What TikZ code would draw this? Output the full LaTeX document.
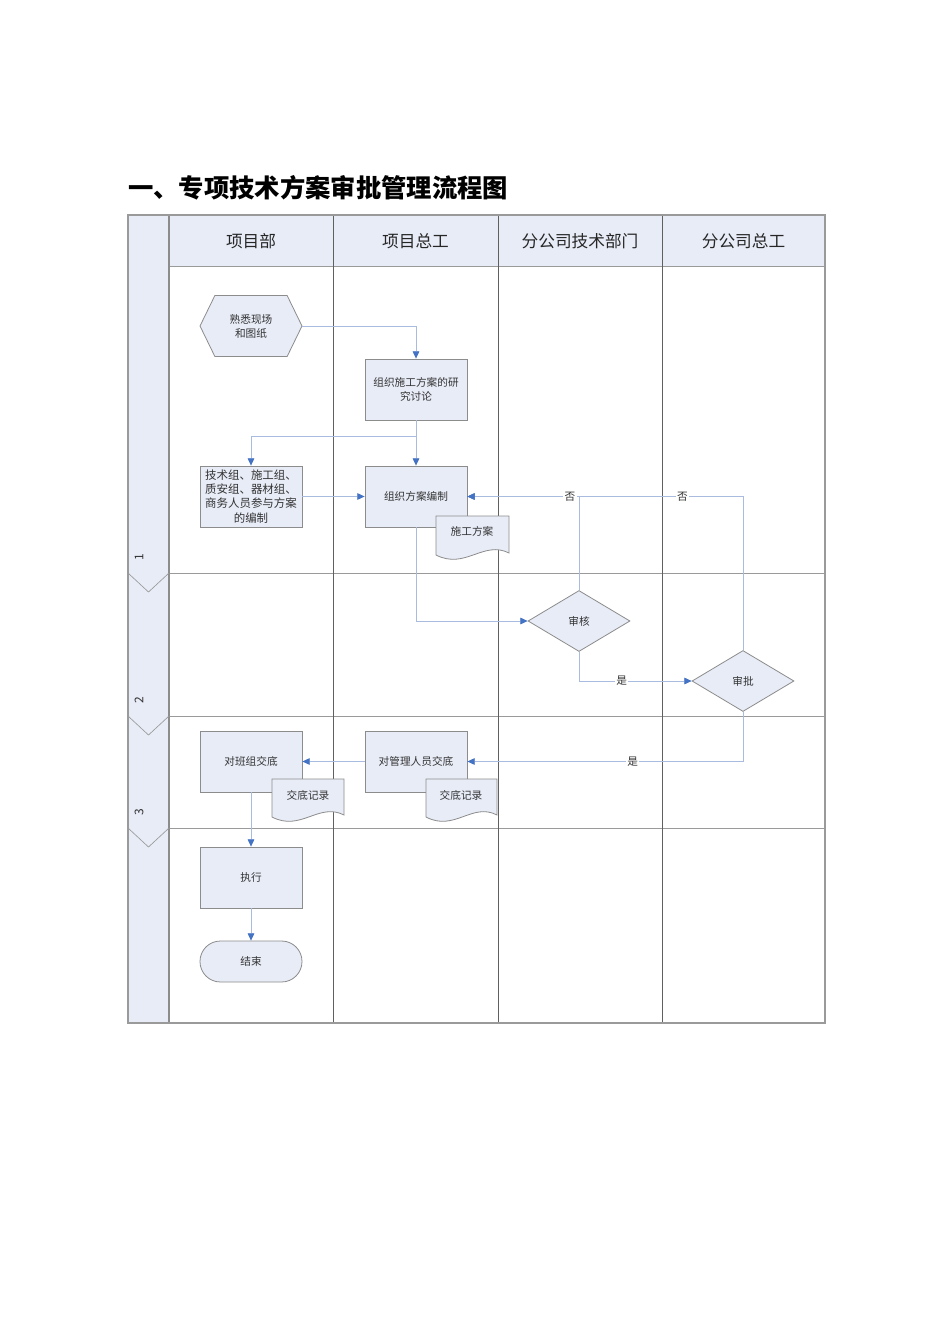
\documentclass[tikz,border=0pt]{standalone}
\usepackage{fontspec}
\newfontfamily\cjk{Noto Sans CJK SC}
\usetikzlibrary{shapes.geometric,shapes.symbols,arrows.meta}
\definecolor{laneblue}{HTML}{E8ECF7}
\definecolor{nodegray}{HTML}{8C8C8C}
\definecolor{gridgray}{HTML}{9A9A9A}
\definecolor{coldark}{HTML}{606060}
\definecolor{connblue}{HTML}{A9BCE0}
\definecolor{tipblue}{HTML}{4472C4}
\definecolor{txt}{HTML}{333333}
\newcommand\docshp[4]{%
  \path[docshape] (#1,#2) -- (#3,#2) -- (#3,#4-2)
    .. controls ({#3-0.35*(#3-#1)},#4-15) and ({#1+0.4*(#3-#1)},#4+15) .. (#1,#4) -- cycle;}
\tikzset{
  box/.style={draw=nodegray, fill=laneblue, line width=0.6pt, minimum width=76.5pt,
    minimum height=45.75pt, inner sep=1pt, align=center,
    font=\cjk\fontsize{8}{10.5}\selectfont, text=txt},
  hexbox/.style={box, signal, signal to=west and east, signal pointer angle=128},
  decision/.style={box, diamond, aspect=1.67, inner sep=0pt},
  terminal/.style={box, minimum height=30.75pt, rounded corners=15.3pt},
  doctext/.style={font=\cjk\fontsize{8}{10.5}\selectfont, text=txt, inner sep=0pt},
  docshape/.style={draw=nodegray, fill=laneblue, line width=0.6pt},
  conn/.style={draw=connblue, line width=0.6pt, -{Triangle[length=5.5pt,width=5pt,color=tipblue]}},
  lbl/.style={fill=white, inner sep=1pt, font=\cjk\fontsize{8}{10}\selectfont, text=txt},
  hdr/.style={font=\cjk\fontsize{12.5}{14}\selectfont, text=black!85},
  phasenum/.style={font=\cjk\fontsize{9}{10}\selectfont, rotate=90, text=txt},
  gridline/.style={draw=gridgray, line width=0.5pt},
  colline/.style={draw=coldark, line width=0.5pt},
}
\begin{document}
\begin{tikzpicture}[x=0.75pt,y=-0.75pt]
\useasboundingbox (0,0) rectangle (950,1344);
\fill[white] (0,0) rectangle (950,1344);
% title
\node[anchor=west, inner sep=0pt] (title) at (128,188)
  {\cjk\bfseries\fontsize{19}{22}\selectfont 一、专项技术方案审批管理流程图};
% header and band
\fill[laneblue] (169,215) rectangle (825,266);
\fill[laneblue] (128,215) rectangle (169,1023);
\draw[gridline] (169,266) -- (825,266);
\foreach \y in {573,716,828} \draw[gridline] (169,\y) -- (825,\y);
\foreach \x in {333,498,662} \draw[colline] (\x,215) -- (\x,1023);
\draw[draw=nodegray, line width=1.1pt] (169,215) -- (169,1023);
\draw[gridline, line width=0.8pt] (128,215) rectangle (825,1023);
\foreach \y in {573,716,828} \draw[gridline] (128,\y) -- (148.5,\y+19) -- (169,\y);
\node[phasenum] (p1) at (139,557) {1};
\node[phasenum] (p2) at (139,700) {2};
\node[phasenum] (p3) at (139,812) {3};
\node[hdr] (h1) at (251,241) {项目部};
\node[hdr] (h2) at (415.5,241) {项目总工};
\node[hdr] (h3) at (580,241) {分公司技术部门};
\node[hdr] (h4) at (743.5,241) {分公司总工};
% nodes
\node[hexbox] (hex) at (251,326) {熟悉现场\\和图纸};
\node[box] (b1) at (416,389.5) {组织施工方案的研\\究讨论};
\node[box, font=\cjk\fontsize{8.6}{10.6}\selectfont] (b3) at (251,496.5) {技术组、施工组、\\质安组、器材组、\\商务人员参与方案\\的编制};
\node[box] (b4) at (416,496.5) {组织方案编制};
\docshp{436}{516}{509}{555}
\node[doctext] (doc1) at (472,531) {施工方案};
\node[decision] (d1) at (579,621) {审核};
\node[decision] (d2) at (743,681) {审批};
\node[box] (b5) at (251,761.5) {对班组交底};
\node[box] (b6) at (416,761.5) {对管理人员交底};
\docshp{272}{779}{344}{817}
\node[doctext] (doc2) at (308,795) {交底记录};
\docshp{426}{779}{497}{817}
\node[doctext] (doc3) at (461,795) {交底记录};
\node[box] (b7) at (251,877.5) {执行};
\node[terminal] (end) at (251,961.5) {结束};
% connectors
\coordinate (br) at (416,436);
\draw[conn] (hex.east) -| (b1.north);
\draw[conn] (b1.south) -- (b4.north);
\draw[conn] (br) -| (b3.north);
\draw[conn] (b3.east) -- (b4.west);
\draw[conn] (b4.south) |- (d1.west);
\draw[conn] (d2.north) |- node[lbl, pos=0.61] {否} (b4.east);
\draw[conn] (d1.north) |- node[lbl, pos=0.54] {否} (b4.east);
\draw[conn] (d1.south) |- node[lbl, pos=0.69] {是} (d2.west);
\draw[conn] (d2.south) |- node[lbl, pos=0.70] {是} (b6.east);
\draw[conn] (b6.west) -- (b5.east);
\draw[conn] (b5.south) -- (b7.north);
\draw[conn] (b7.south) -- (end.north);
\end{tikzpicture}
\end{document}
